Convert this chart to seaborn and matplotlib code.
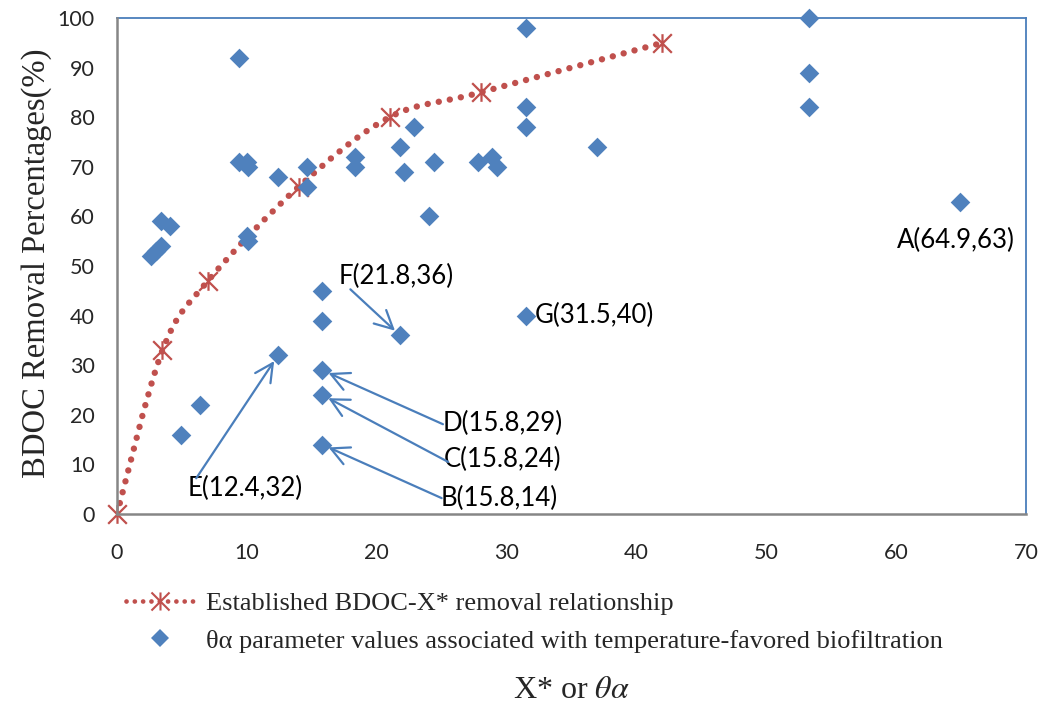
import numpy as np
import matplotlib
matplotlib.use("Agg")
import matplotlib.pyplot as plt
from matplotlib.path import Path
from matplotlib.patches import PathPatch
from matplotlib.lines import Line2D
import seaborn as sns

# Established BDOC removal vs X* relationship
relation_x = [0, 3.5, 7, 14, 21, 28, 42]
relation_y = [0, 33, 47, 66, 80, 85, 95]

# theta-alpha values (unlabelled points)
theta_x = [2.6, 3.0, 3.4, 3.4, 4.1, 4.9, 6.4, 9.4, 9.4, 10.0, 10.1, 10.0, 10.1,
           12.4, 14.6, 14.6, 15.8, 15.8, 18.3, 18.3, 21.8, 22.1, 22.9, 24.0,
           24.4, 27.8, 28.9, 29.3, 31.5, 31.5, 31.5, 37.0, 53.3, 53.3, 53.3]
theta_y = [52, 53, 54, 59, 58, 16, 22, 92, 71, 71, 70, 56, 55,
           68, 70, 66, 45, 39, 72, 70, 74, 69, 78, 60,
           71, 71, 72, 70, 98, 82, 78, 74, 100, 89, 82]

# labelled theta-alpha points
labelled_names = ["A", "B", "C", "D", "E", "F", "G"]
labelled_x = [64.9, 15.8, 15.8, 15.8, 12.4, 21.8, 31.5]
labelled_y = [63, 14, 24, 29, 32, 36, 40]

x_ticks = [0, 10, 20, 30, 40, 50, 60, 70]
y_ticks = [0, 10, 20, 30, 40, 50, 60, 70, 80, 90, 100]

# label text anchors and arrow tails (data coordinates)
label_anchor = {"A": (64.6, 55.2, "center"), "B": (24.9, 3.2, "left"),
                "C": (25.2, 10.9, "left"), "D": (25.1, 18.3, "left"),
                "E": (5.45, 5.2, "left"), "F": (17.1, 47.8, "left"),
                "G": (32.2, 40.0, "left")}
arrow_tail = {"B": (25.0, 3.2), "C": (25.5, 10.5), "D": (25.1, 18.1),
              "E": (6.1, 7.2), "F": (17.97, 45.3)}

RED = "#C0504D"
BLUE = "#4F81BD"
LINE_BLUE = "#4A7EBB"
GRAY = "#868686"

sns.set_style("white")
plt.rcParams["font.family"] = ["Lato", "DejaVu Sans"]
plt.rcParams["mathtext.fontset"] = "stix"
SERIF = ["Liberation Serif", "DejaVu Serif"]

fig = plt.figure(figsize=(10.47, 7.06), dpi=100)
ax = fig.add_axes([117 / 1047, 1 - 514 / 706, (1026 - 117) / 1047, (514 - 18) / 706])


def smooth_path(xs, ys):
    pts = np.column_stack([xs, ys]).astype(float)
    n = len(pts)
    verts = [pts[0]]
    codes = [Path.MOVETO]
    for i in range(n - 1):
        p0 = pts[max(i - 1, 0)]
        p1 = pts[i]
        p2 = pts[i + 1]
        p3 = pts[min(i + 2, n - 1)]
        verts += [p1 + (p2 - p0) / 6, p2 - (p3 - p1) / 6, p2]
        codes += [Path.CURVE4] * 3
    return Path(verts, codes)


# asterisk marker: X plus a vertical bar
star = Path([(-0.5, -0.5), (0.5, 0.5), (-0.5, 0.5), (0.5, -0.5), (0, -0.5), (0, 0.5)],
            [Path.MOVETO, Path.LINETO] * 3)

DOTS = (0, (0.01, 1.75))
curve = PathPatch(smooth_path(relation_x, relation_y), fill=False, edgecolor=RED,
                  linewidth=4.6, linestyle=DOTS, capstyle="round", zorder=2)
ax.add_patch(curve)

sns.scatterplot(x=relation_x, y=relation_y, marker=star, s=180, color=RED,
                edgecolor=RED, linewidth=1.6, ax=ax, zorder=3, clip_on=False,
                legend=False)

all_x = theta_x + labelled_x
all_y = theta_y + labelled_y
sns.scatterplot(x=all_x, y=all_y, marker="D", s=100, color=BLUE, linewidth=0,
                ax=ax, zorder=4, clip_on=False, legend=False)

# point labels and arrows
for name, px, py in zip(labelled_names, labelled_x, labelled_y):
    tx, ty, ha = label_anchor[name]
    ax.text(tx, ty, f"{name}({px:g},{py:g})", ha=ha, va="center", fontsize=18.5,
            color="black", zorder=5)
    if name in arrow_tail:
        ax.annotate("", xy=(px, py), xytext=arrow_tail[name],
                    arrowprops=dict(arrowstyle="->,head_length=0.65,head_width=0.33",
                                    color=LINE_BLUE, lw=1.6, shrinkA=0, shrinkB=5,
                                    mutation_scale=20),
                    zorder=5)

ax.set_xlim(0, 70)
ax.set_ylim(0, 100)
ax.set_xticks(x_ticks)
ax.set_yticks(y_ticks)
ax.tick_params(axis="both", length=0, labelsize=15.5)
ax.tick_params(axis="x", pad=21)
ax.tick_params(axis="y", pad=16)
ax.grid(False)

for side in ["top", "right"]:
    ax.spines[side].set_color(LINE_BLUE)
    ax.spines[side].set_linewidth(1.3)
for side in ["left", "bottom"]:
    ax.spines[side].set_color(GRAY)
    ax.spines[side].set_linewidth(1.8)
    ax.spines[side].set_zorder(6)

ax.set_ylabel("BDOC Removal Percentages(%)", family=SERIF, fontsize=23.5)
ax.yaxis.set_label_coords(-0.072, 0.505)
ax.set_xlabel(r"X* or $\theta\alpha$", family=SERIF, fontsize=23, va="center")
ax.xaxis.set_label_coords(0.5, -0.355)

handles = [
    Line2D([], [], color=RED, lw=3.4, linestyle=DOTS, dash_capstyle="round",
           marker=star, markersize=13, markeredgecolor=RED, markeredgewidth=1.5),
    Line2D([], [], color=BLUE, linestyle="none", marker="D", markersize=9,
           markeredgewidth=0),
]
labels = ["Established BDOC-X* removal relationship",
          "θα parameter values associated with temperature-favored biofiltration"]
fig.legend(handles, labels, loc="upper left", bbox_to_anchor=(126 / 1047, 1 - 592 / 706),
           frameon=False, prop={"family": SERIF, "size": 19}, handlelength=2.6,
           handletextpad=0.45, labelspacing=0.52, borderpad=0, borderaxespad=0,
           numpoints=1)

fig.savefig("out.png", dpi=100)
